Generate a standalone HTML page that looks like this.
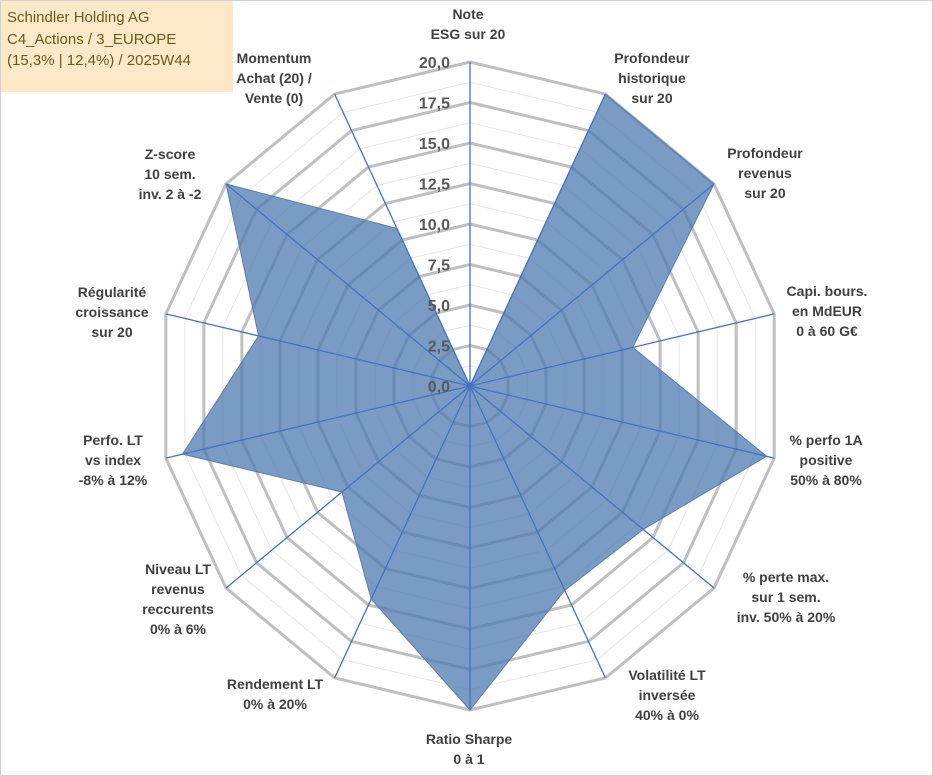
<!DOCTYPE html>
<html><head><meta charset="utf-8"><style>
body{margin:0;background:#fff;}
#wrap{position:relative;width:933px;height:776px;overflow:hidden;}
svg{position:absolute;left:0;top:0;}
#title{position:absolute;left:1px;top:1px;width:232px;height:91px;background:#fde9c8;font-family:"Liberation Sans",sans-serif;font-size:15px;line-height:21.5px;color:#6b5a20;padding:6px 0 0 6px;box-sizing:border-box;}
</style></head><body>
<div id="wrap">
<svg id="chart" width="933" height="776">
<rect x="0.5" y="0.5" width="932" height="775" fill="none" stroke="#d0d0d0"/>
</svg>
<div id="title">Schindler Holding AG<br>C4_Actions / 3_EUROPE<br>(15,3% | 12,4%) / 2025W44</div>
</div>
<script>
const categories=[["Note","ESG sur 20"],["Profondeur","historique","sur 20"],["Profondeur","revenus","sur 20"],["Capi. bours.","en MdEUR","0 à 60 G€"],["% perfo 1A","positive","50% à 80%"],["% perte max.","sur 1 sem.","inv. 50% à 20%"],["Volatilité LT","inversée","40% à 0%"],["Ratio Sharpe","0 à 1"],["Rendement LT","0% à 20%"],["Niveau LT","revenus","reccurents","0% à 6%"],["Perfo. LT","vs index","-8% à 12%"],["Régularité","croissance","sur 20"],["Z-score","10 sem.","inv. 2 à -2"],["Momentum","Achat (20) /","Vente (0)"]];
const values=[0,20,20,10.7,19.5,14.2,14,20,14.6,10.5,18.9,13.9,20,10.8];
const tickLabels=["0,0","2,5","5,0","7,5","10,0","12,5","15,0","17,5","20,0"];
const labelPos=[[468,19],[652,63],[765,158],[827,296],[826,445],[786,582],[667,680],[469,744],[275,689],[178,574],[113,445],[112,297],[170,159],[274,63]];
const cx=470,cy=386,Rx=312,Ry=324,vmax=20;
const svg=document.getElementById('chart');
const NS="http://www.w3.org/2000/svg";
const N=categories.length;
function pt(i,v){const a=2*Math.PI*i/N;return [cx+Math.sin(a)*Rx*v/vmax, cy-Math.cos(a)*Ry*v/vmax];}
function mk(t,at){const e=document.createElementNS(NS,t);for(const k in at)e.setAttribute(k,at[k]);svg.appendChild(e);return e;}
for(let v=1.25;v<=vmax+0.01;v+=1.25){
 const major=Math.abs(v/2.5-Math.round(v/2.5))<1e-6;
 const p=[];for(let i=0;i<N;i++)p.push(pt(i,v).join(','));
 const e=mk('polygon',{points:p.join(' '),fill:'none',stroke:major?'#bfbfbf':'#e6e6e6','stroke-width':major?3:1});
 
 
}
const sp=values.map((v,i)=>pt(i,v).join(',')).join(' ');
const poly=mk('polygon',{points:sp,fill:'rgb(76,122,176)','fill-opacity':0.75,stroke:'#5a7fb0','stroke-width':1});


for(let i=0;i<N;i++){const [x,y]=pt(i,vmax);
 const l=mk('line',{x1:cx,y1:cy,x2:x,y2:y,stroke:'#4472c4','stroke-width':1.3});
 
 }
tickLabels.forEach((t,k)=>{const y=cy-Ry*k*2.5/vmax;
 const e=mk('text',{x:450,y:y+6,'text-anchor':'end','font-family':'Liberation Sans, sans-serif','font-size':16,'font-weight':'bold',fill:'#595959'});
 e.textContent=t;
 
 });
categories.forEach((lines,i)=>{const [x,y]=labelPos[i];
 const e=mk('text',{x:x,y:y,'text-anchor':'middle','font-family':'Liberation Sans, sans-serif','font-size':14,'font-weight':'bold',fill:'#404040'});
 
 
 lines.forEach((s,j)=>{const ts=document.createElementNS(NS,'tspan');ts.setAttribute('x',x);ts.setAttribute('dy',j?20:0);ts.textContent=s;e.appendChild(ts);});});
</script>
</body></html>
